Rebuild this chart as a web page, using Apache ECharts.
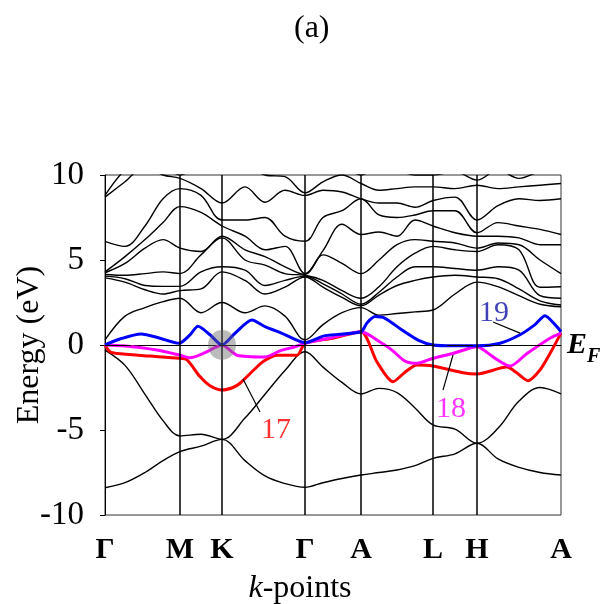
<!DOCTYPE html>
<html><head><meta charset="utf-8">
<script src="https://cdn.jsdelivr.net/npm/echarts@6/dist/echarts.min.js"></script>
<style>html,body{margin:0;padding:0;background:#fff}#c{width:605px;height:604px}</style>
</head><body><div id="c"></div>
<script>
// k-path positions (distance units) of the sampled columns
const kPos = [0,20,40,58,75,96,117,140,160,180,200,218,237,256,274,292,310,328,350,372,393,414,435,456];
const kTicks = [0,75,117,200,256,328,372,456];
const kLabels = ['Γ','M','K','Γ','A','L','H','A'];

// black bands above E_F (eV), one row per band
const upperBands = [
 [0.3,1.7,2.2,2.55,2.75,1.9,2.5,1.9,2.3,1.7,0.3,1.2,1.9,2.2,1.76,1.85,1.95,2.06,3.0,3.7,3.43,2.9,2.4,2.25],
 [3.95,3.7,3.25,3.0,3.2,3.3,4.3,3.8,3.0,3.4,4.0,3.4,2.8,2.3,2.94,3.5,3.8,4.0,4.1,4.0,3.9,3.3,2.6,2.35],
 [4.05,3.9,3.5,3.45,3.45,4.3,4.6,4.4,3.5,3.8,4.05,3.6,3.0,2.4,3.1,4.0,4.6,4.6,4.5,4.4,4.6,4.4,2.9,2.75],
 [4.15,4.1,4.2,4.3,4.2,5.3,6.3,5.0,4.7,4.2,4.1,3.8,3.2,2.75,3.43,4.6,5.4,5.8,5.6,5.5,5.9,5.6,3.4,3.43],
 [4.25,4.8,5.7,6.2,5.7,5.5,6.4,5.6,5.2,4.6,4.15,5.3,4.8,4.2,5.0,5.9,6.2,6.1,6.0,5.7,6.0,5.9,5.0,4.2],
 [4.3,5.2,6.2,7.2,8.14,7.8,7.0,6.4,5.6,5.8,4.2,5.55,7.1,6.5,6.65,6.4,7.35,7.0,6.6,6.4,6.4,6.3,5.9,5.9],
 [6.1,5.8,7.0,8.6,9.2,8.8,7.35,7.35,7.5,6.4,6.1,7.5,7.9,8.6,7.65,7.5,7.65,7.9,7.9,6.6,7.2,7.0,6.8,6.5],
 [8.7,9.6,10.5,10.0,9.8,9.2,8.35,9.3,8.4,9.1,8.8,9.1,9.0,8.6,8.35,8.35,8.1,8.5,8.7,7.35,8.2,8.6,8.5,8.6],
 [8.8,10.3,11,10.6,10.0,10.5,10.5,10.5,10.0,9.9,8.95,9.6,10.0,9.5,9.1,9.2,9.3,9.3,9.2,9.4,9.2,9.3,9.4,9.5],
 [11,11,11.5,11.5,11,11,11,11,11,10.5,11,10.2,10.5,10.0,10.5,10.3,10.0,10.0,10.2,9.7,10.3,9.8,10.2,10.3]
];
// black bands below E_F
const lowerBands = [
 [-0.3,-1.2,-2.9,-4.45,-5.35,-5.25,-5.55,-4.3,-2.9,-1.5,-0.4,-1.3,-2.2,-2.88,-2.55,-2.8,-3.7,-4.7,-4.95,-5.78,-4.9,-3.3,-2.5,-2.88],
 [-8.4,-8.1,-7.5,-6.8,-6.27,-5.95,-5.55,-6.8,-7.7,-8.15,-8.37,-8.1,-7.85,-7.65,-7.5,-7.35,-7.1,-6.67,-6.4,-5.78,-6.7,-7.2,-7.5,-7.65]
];
// band 17 (red)
const band17K = [0,5,12,45,74,82,95,105,117,128,135,158,172,192,200,228,256,272,288,300,312,328,358,372,402,411,423,435,445,456];
const band17E = [0,-0.4,-0.5,-0.65,-0.78,-0.88,-1.86,-2.4,-2.65,-2.5,-2.25,-0.98,-0.6,-0.6,0.1,0.4,0.78,-1.0,-2.16,-1.6,-1.18,-1.24,-1.63,-1.7,-1.3,-1.6,-2.1,-1.47,-0.5,0.7];
// band 18 (magenta)
const band18K = [0,18,52,75,85,100,117,132,160,175,190,200,228,256,277,287,300,312,328,348,372,388,405,422,445,456];
const band18E = [0,-0.05,-0.3,-0.6,-0.75,-0.45,0,-0.6,-0.7,-0.35,-0.1,0.1,0.45,0.78,0.1,-0.3,-0.95,-1.08,-0.78,-0.5,-0.1,-0.7,-1.24,-0.5,0.4,0.7];
// band 19 (blue)
const band19K = [0,15,36,55,74,85,93,105,117,130,147,160,177,200,220,256,262,270,280,297,313,328,350,372,395,415,430,440,450,456];
const band19E = [0,0.35,0.65,0.4,0.1,0.6,1.1,0.6,0,0.69,1.47,1.08,0.69,0.14,0.55,0.78,1.3,1.67,1.57,0.88,0.29,0,-0.05,-0.05,0.1,0.6,1.2,1.72,1.2,0.78];

const serif = 'Liberation Serif';
const chart = echarts.init(document.getElementById('c'));
const zip = (ks, es) => ks.map((k, i) => [k, es[i]]);

const series = [];
upperBands.concat(lowerBands).forEach((b) => {
  series.push({type:'line', data: zip(kPos, b), smooth:0.35, symbol:'none', silent:true, z:2,
    lineStyle:{color:'#000', width:1.4}});
});
// symmetry lines and E_F line
series.push({type:'line', data:[], silent:true, z:1,
  markLine:{silent:true, symbol:'none', animation:false,
    data: kTicks.slice(1,-1).map(v => ({xAxis:v, lineStyle:{color:'#000', width:1.5, type:'solid'}, label:{show:false}}))
      .concat([{yAxis:0, lineStyle:{color:'#000', width:1, type:[26,12]},
        label:{show:true, position:'end', distance:6, formatter:'{e|E}{f|F}',
          rich:{e:{fontFamily:serif, fontSize:30, fontWeight:'bold', fontStyle:'italic', color:'#000'},
                f:{fontFamily:serif, fontSize:20, fontWeight:'bold', fontStyle:'italic', color:'#000', padding:[24,0,0,0]}}}}])
  }});
const colored = [[band17K, band17E, '#ff0000'], [band18K, band18E, '#ff00ff'], [band19K, band19E, '#0000ff']];
colored.forEach(([k, e, c]) => {
  series.push({type:'line', data: zip(k, e), smooth:0.25, symbol:'none', silent:true, z:3,
    lineStyle:{color:c, width:3}});
});
// gray spot at K
series.push({type:'scatter', data:[[117,0]], symbol:'circle', symbolSize:[28,30], silent:true, z:5,
  itemStyle:{color:'rgba(100,100,100,0.55)'}});
// band number labels and leaders
const tags = [
  {txt:'17', color:'#ff0000', pos:[171,-5.0], lead:[[138,-2.0],[155,-3.94]]},
  {txt:'18', color:'#ff00ff', pos:[346,-3.8], lead:[[348,-0.59],[338,-2.65]]},
  {txt:'19', color:'#1010a8', pos:[389,1.9], lead:[[388,1.35],[415,0.7]]}
];
tags.forEach(t => {
  series.push({type:'line', data:t.lead, symbol:'none', silent:true, z:4, lineStyle:{color:'#000', width:1.2}});
  series.push({type:'scatter', data:[t.pos], symbolSize:1, silent:true, z:6, itemStyle:{color:'transparent'},
    label:{show:true, position:'inside', formatter:t.txt, color:t.color, fontFamily:serif, fontSize:30}});
});

chart.setOption({
  animation:false,
  backgroundColor:'#fff',
  title:{text:'(a)', left:289, top:8, textStyle:{fontFamily:serif, fontSize:32, fontWeight:'normal', color:'#000'}},
  grid:{left:105, top:175, width:456, height:340, show:true, borderColor:'#333', borderWidth:1,
    containLabel:false, outerBoundsMode:'none'},
  xAxis:{type:'value', min:0, max:456,
    axisLine:{show:true, lineStyle:{color:'#000', width:1}},
    axisTick:{show:false},
    splitLine:{show:false},
    axisLabel:{customValues:kTicks, formatter: v => kLabels[kTicks.indexOf(v)], fontFamily:serif, fontWeight:'bold', fontSize:30, color:'#000', margin:20},
    name:'{i|k}-points', nameLocation:'middle', nameGap:58, nameMoveOverlap:false,
    nameTextStyle:{fontFamily:serif, fontSize:32, color:'#000', padding:[0,66,0,0], rich:{i:{fontFamily:serif, fontSize:32, fontStyle:'italic', color:'#000'}}}
  },
  yAxis:{type:'value', min:-10, max:10, interval:5,
    axisLine:{show:true, lineStyle:{color:'#000', width:1}},
    axisTick:{show:true, length:5, lineStyle:{color:'#000'}},
    splitLine:{show:false},
    axisLabel:{fontFamily:serif, fontSize:33, color:'#000', margin:21},
    name:'Energy (eV)', nameLocation:'middle', nameGap:59, nameMoveOverlap:false,
    nameTextStyle:{fontFamily:serif, fontSize:32, color:'#000'}
  },
  series: series
});
</script></body></html>
